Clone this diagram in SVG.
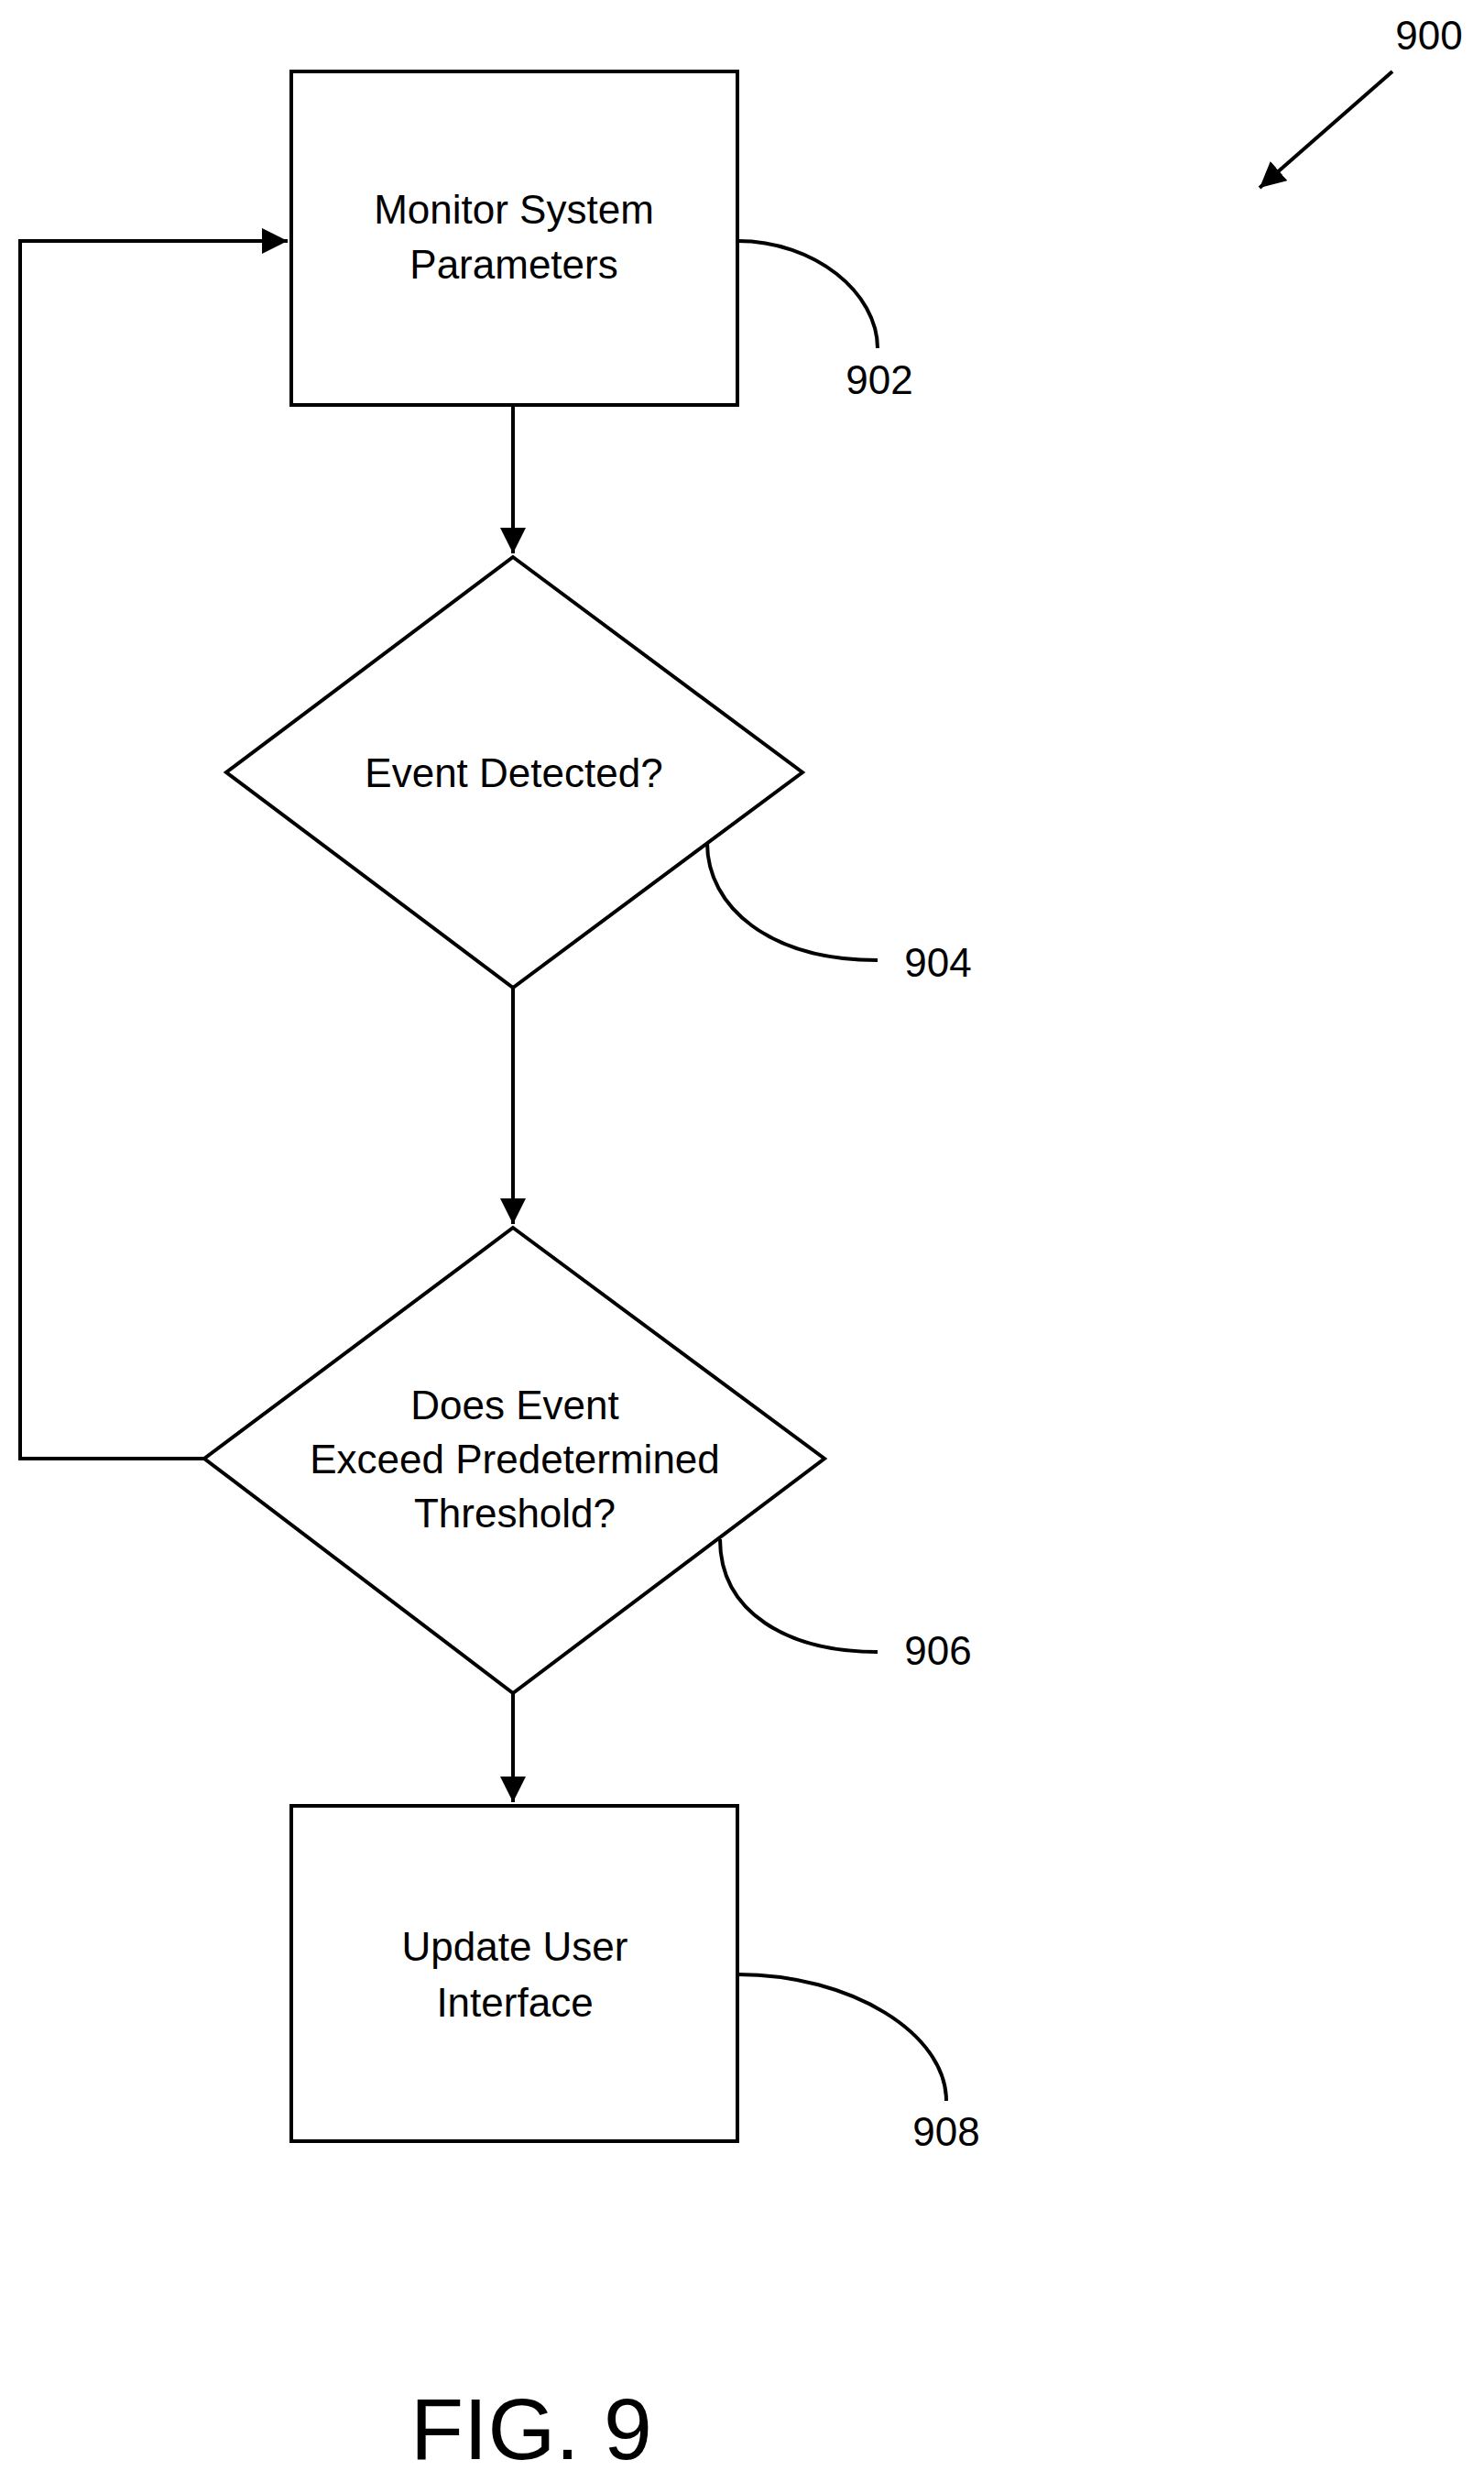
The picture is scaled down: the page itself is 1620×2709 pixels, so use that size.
<svg xmlns="http://www.w3.org/2000/svg" width="1620" height="2709" viewBox="0 0 1620 2709">
<style>
.s{fill:none;stroke:#000;stroke-width:4}
.n{fill:#fff;stroke:#000;stroke-width:4}
text{font-family:"Liberation Sans",Arial,sans-serif;font-size:44px;fill:#000;text-anchor:middle;dominant-baseline:central}
</style>
<defs><marker id="a" viewBox="0 0 10 10" refX="10" refY="5" markerWidth="8" markerHeight="8" markerUnits="userSpaceOnUse" orient="auto"><path d="M0,0 L10,5 L0,10 z" fill="#000"/></marker>
<marker id="b" viewBox="0 0 10 10" refX="10" refY="5" markerWidth="7" markerHeight="7" orient="auto"><path d="M0,0 L10,5 L0,10 z" fill="#000"/></marker></defs>
<g id="connectors">
<path class="s" d="M560,442 V604" marker-end="url(#b)"/>
<path class="s" d="M560,1078 V1336" marker-end="url(#b)"/>
<path class="s" d="M560,1848 V1967" marker-end="url(#b)"/>
<path class="s" d="M223,1592 H22 V263 H314" marker-end="url(#b)"/>
<path class="s" d="M1520,78 L1375,205" marker-end="url(#b)"/>
<path class="s" d="M805,263 C890,263 958,320 958,380"/>
<path class="s" d="M772,920 C772,990 840,1048 958,1048"/>
<path class="s" d="M786,1680 C786,1760 860,1803 958,1803"/>
<path class="s" d="M805,2155 C930,2155 1033,2220 1033,2293"/>
</g>
<g id="n902"><rect class="n" x="318" y="78" width="487" height="364"/><text x="561" y="228">Monitor System</text><text x="561" y="288">Parameters</text></g>
<g id="n904"><path class="n" d="M560,608 L876,843 L560,1078 L247,843 Z"/><text x="561" y="843">Event Detected?</text></g>
<g id="n906"><path class="n" d="M560,1340 L900,1592 L560,1848 L223,1592 Z"/><text x="562" y="1533">Does Event</text><text x="562" y="1592">Exceed Predetermined</text><text x="562" y="1651">Threshold?</text></g>
<g id="n908"><rect class="n" x="318" y="1971" width="487" height="366"/><text x="562" y="2124">Update User</text><text x="562" y="2185">Interface</text></g>
<g id="labels">
<text x="1560" y="38">900</text>
<text x="960" y="414">902</text>
<text x="1024" y="1050">904</text>
<text x="1024" y="1801">906</text>
<text x="1033" y="2326">908</text>
<text x="580" y="2651" style="font-size:95px">FIG. 9</text>
</g>
</svg>
